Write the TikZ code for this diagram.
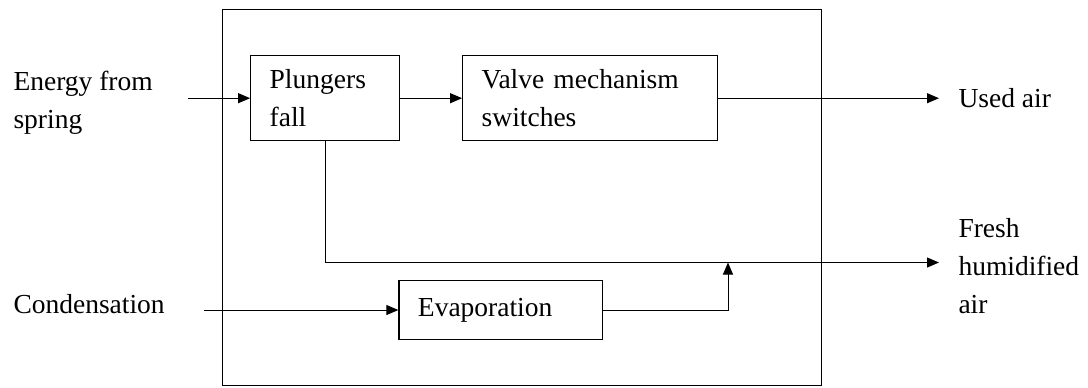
\documentclass[tikz,border=0pt]{standalone}
\usepackage{fontspec}
\setmainfont{Liberation Serif}
\usetikzlibrary{arrows.meta,positioning}
\begin{document}
\begin{tikzpicture}[x=0.5pt,y=-0.5pt,font=\fontsize{13.75}{19}\selectfont,line width=0.5pt,
  box/.style={draw,line width=0.6pt,align=left,inner xsep=9.5pt,inner ysep=0pt},
  lbl/.style={align=left,anchor=west,inner sep=0pt},>={Triangle[length=6pt,width=5pt]}]
  \useasboundingbox (0,0) rectangle (1088,387);
  \node[draw,line width=0.6pt,minimum width=299.5pt,minimum height=188.1pt] (sys) at (522.2,197.6) {};
  \node[box,text width=55.3pt,minimum height=42.5pt] (pf) at (325,98.2) {Plungers\\fall};
  \node[box,text width=108.5pt,minimum height=42.5pt] (vm) at (590.2,98.2) {Valve mechanism\\switches};
  \node[box,text width=82.85pt,minimum height=29.3pt] (ev) at (500.8,310) {Evaporation};
  \node[lbl] (esp) at (13,102.5) {Energy from\\spring};
  \node[lbl] (cond) at (13,304.5) {Condensation};
  \node[lbl] (used) at (958,98) {Used air};
  \node[lbl] (fresh) at (958,266.5) {Fresh\\humidified\\air};
  \coordinate (ein) at (188,98.2);
  \coordinate (uout) at (939,98.2);
  \coordinate (fout) at (939,262.5);
  \coordinate (cin) at (204,310);
  \coordinate (mrg) at (728,262.5);
  \draw[->] (ein) -- (pf);
  \draw[->] (pf) -- (vm);
  \draw[->] (vm) -- (uout);
  \draw[->] (pf.south) |- (fout);
  \draw[->] (cin) -- (ev);
  \draw[->] (ev) -| (mrg);
\end{tikzpicture}
\end{document}
